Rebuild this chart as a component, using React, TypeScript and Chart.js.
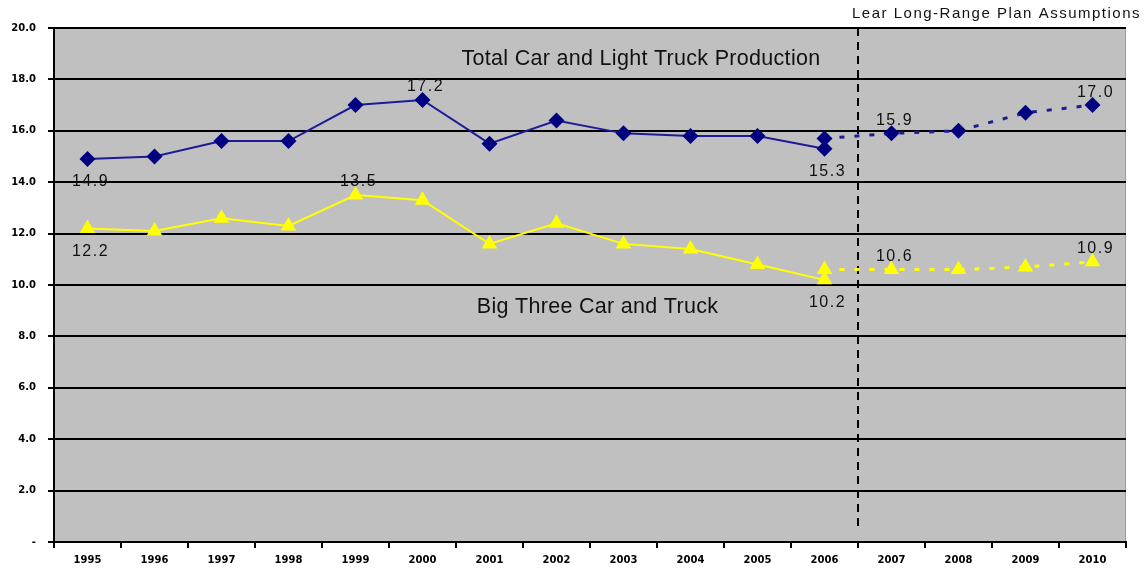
import React, { useEffect, useRef } from 'react';
import { Chart, registerables } from 'chart.js';

Chart.register(...registerables);

const years = ['1995', '1996', '1997', '1998', '1999', '2000', '2001', '2002', '2003', '2004', '2005', '2006', '2007', '2008', '2009', '2010'];

const totalActual = [14.9, 15.0, 15.6, 15.6, 17.0, 17.2, 15.5, 16.4, 15.9, 15.8, 15.8, 15.3, null, null, null, null];
const totalPlan = [null, null, null, null, null, null, null, null, null, null, null, 15.7, 15.9, 16.0, 16.7, 17.0];
const bigThreeActual = [12.2, 12.1, 12.6, 12.3, 13.5, 13.3, 11.6, 12.4, 11.6, 11.4, 10.8, 10.2, null, null, null, null];
const bigThreePlan = [null, null, null, null, null, null, null, null, null, null, null, 10.6, 10.6, 10.6, 10.7, 10.9];

const yTicks = [0, 2, 4, 6, 8, 10, 12, 14, 16, 18, 20];

// value labels: [dataset index, point index, 'above' | 'below']
const valueLabels: [number, number, string][] = [
  [0, 0, 'below'],
  [0, 5, 'above'],
  [0, 11, 'below'],
  [1, 12, 'above'],
  [1, 15, 'above'],
  [2, 0, 'below'],
  [2, 4, 'above'],
  [2, 11, 'below'],
  [3, 12, 'above'],
  [3, 15, 'above'],
];

const seriesTitles = ['Total Car and Light Truck Production', 'Big Three Car and Truck'];
const planTitle = 'Lear Long-Range Plan Assumptions';

const NAVY = '#000080';
const NAVY_LINE = '#1c1c96';
const YELLOW = '#ffff00';

const decorPlugin = {
  id: 'decor',
  beforeDraw(chart: any) {
    const { ctx, chartArea } = chart;
    ctx.save();
    ctx.fillStyle = '#c0c0c0';
    ctx.fillRect(chartArea.left, chartArea.top, chartArea.right - chartArea.left, chartArea.bottom - chartArea.top);
    ctx.strokeStyle = '#9a9a9a';
    ctx.lineWidth = 1;
    ctx.beginPath();
    ctx.moveTo(chartArea.left, chartArea.top + 0.5);
    ctx.lineTo(chartArea.right - 0.5, chartArea.top + 0.5);
    ctx.lineTo(chartArea.right - 0.5, chartArea.bottom);
    ctx.stroke();
    ctx.restore();
  },
  beforeDatasetsDraw(chart: any) {
    const { ctx, chartArea, scales } = chart;
    const x = (scales.x.getPixelForValue(11) + scales.x.getPixelForValue(12)) / 2;
    ctx.save();
    ctx.strokeStyle = '#000';
    ctx.lineWidth = 2;
    ctx.setLineDash([8, 6]);
    ctx.beginPath();
    ctx.moveTo(x, chartArea.top);
    ctx.lineTo(x, chartArea.bottom - 16);
    ctx.stroke();
    ctx.restore();
  },
  afterDatasetsDraw(chart: any) {
    const { ctx, scales, chartArea } = chart;
    ctx.save();
    ctx.fillStyle = '#111';
    ctx.font = '16px "Liberation Sans", Arial, sans-serif';
    ctx.letterSpacing = '1.5px';
    ctx.textAlign = 'center';
    ctx.textBaseline = 'middle';
    valueLabels.forEach(([ds, i, pos]) => {
      const v = chart.data.datasets[ds].data[i];
      const x = scales.x.getPixelForValue(i) + 3;
      const y = scales.y.getPixelForValue(v);
      ctx.fillText(v.toFixed(1), x, pos === 'above' ? y - 13 : y + 23);
    });
    ctx.letterSpacing = '0.3px';
    ctx.font = '21.5px "Liberation Sans", Arial, sans-serif';
    const cx1 = (scales.x.getPixelForValue(8) + scales.x.getPixelForValue(9)) / 2 - 16;
    ctx.fillText(seriesTitles[0], cx1, scales.y.getPixelForValue(18.8));
    const cx2 = scales.x.getPixelForValue(8) - 26;
    ctx.fillText(seriesTitles[1], cx2, scales.y.getPixelForValue(9.15));
    ctx.font = '15px "Liberation Sans", Arial, sans-serif';
    ctx.letterSpacing = '1.5px';
    ctx.textAlign = 'right';
    ctx.fillText(planTitle, chartArea.right + 15, 14);
    ctx.restore();
  },
};

export default function App() {
  const ref = useRef<HTMLCanvasElement>(null);
  useEffect(() => {
    document.body.style.margin = '0';
    const chart = new Chart(ref.current as HTMLCanvasElement, {
      type: 'line',
      data: {
        labels: years,
        datasets: [
          {
            data: totalActual,
            borderColor: NAVY_LINE,
            borderWidth: 2,
            pointStyle: 'rectRot',
            pointRadius: 8,
            pointBackgroundColor: NAVY,
            pointBorderColor: NAVY,
            pointBorderWidth: 0,
            spanGaps: false,
          },
          {
            data: totalPlan,
            borderColor: NAVY_LINE,
            borderWidth: 3,
            borderDash: [5, 10],
            pointStyle: 'rectRot',
            pointRadius: 8,
            pointBackgroundColor: NAVY,
            pointBorderColor: NAVY,
            pointBorderWidth: 0,
          },
          {
            data: bigThreeActual,
            borderColor: YELLOW,
            borderWidth: 2,
            pointStyle: 'triangle',
            pointRadius: 9,
            pointBackgroundColor: YELLOW,
            pointBorderColor: YELLOW,
            pointBorderWidth: 0,
          },
          {
            data: bigThreePlan,
            borderColor: YELLOW,
            borderWidth: 3,
            borderDash: [5, 10],
            pointStyle: 'triangle',
            pointRadius: 9,
            pointBackgroundColor: YELLOW,
            pointBorderColor: YELLOW,
            pointBorderWidth: 0,
          },
        ],
      },
      options: {
        responsive: false,
        animation: false,
        layout: { padding: { top: 28, right: 18, left: 0, bottom: 0 } },
        plugins: { legend: { display: false }, tooltip: { enabled: false } },
        scales: {
          x: {
            offset: true,
            grid: { display: true, drawOnChartArea: false, offset: true, color: '#000', lineWidth: 2, tickLength: 6 },
            border: { color: '#000', width: 2 },
            ticks: {
              color: '#000',
              font: { family: '"DejaVu Sans", sans-serif', size: 10, weight: 'bold' },
              maxRotation: 0,
              autoSkip: false,
              padding: 6,
            },
            afterFit(scale: any) { scale.height = 32; },
          },
          y: {
            min: 0,
            max: 20,
            afterBuildTicks(scale: any) { scale.ticks = yTicks.map((v) => ({ value: v })); },
            grid: { color: '#000', lineWidth: 2, tickLength: 6 },
            border: { color: '#000', width: 2 },
            ticks: {
              color: '#000',
              font: { family: '"DejaVu Sans", sans-serif', size: 10, weight: 'bold' },
              padding: 12,
              callback: (v: any) => (v === 0 ? '-' : Number(v).toFixed(1)),
            },
            afterFit(scale: any) { scale.width = 54; },
          },
        },
      },
      plugins: [decorPlugin],
    });
    return () => chart.destroy();
  }, []);
  return <canvas ref={ref} width={1144} height={574} style={{ display: 'block' }} />;
}
